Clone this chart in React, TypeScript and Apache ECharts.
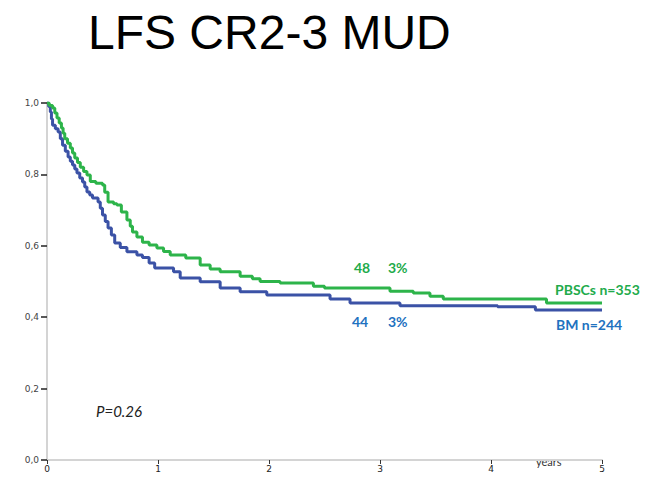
import React, { useEffect, useRef } from "react";
import * as echarts from "echarts";

// Kaplan–Meier step data: time in years, leukaemia-free survival fraction
const pbscTime = [0, 0.02, 0.05, 0.07, 0.09, 0.11, 0.13, 0.145, 0.16, 0.185, 0.21, 0.23, 0.25, 0.275, 0.3, 0.33, 0.36, 0.39, 0.44, 0.5, 0.52, 0.55, 0.6, 0.63, 0.67, 0.72, 0.75, 0.77, 0.81, 0.86, 0.92, 0.99, 1.05, 1.11, 1.25, 1.38, 1.47, 1.56, 1.74, 1.85, 1.92, 2.1, 2.4, 2.5, 3.09, 3.3, 3.45, 3.57, 4.5, 5.0];
const pbscSurv = [1.0, 0.993, 0.986, 0.972, 0.958, 0.944, 0.93, 0.915, 0.9, 0.887, 0.874, 0.86, 0.846, 0.833, 0.82, 0.808, 0.798, 0.78, 0.775, 0.77, 0.75, 0.723, 0.718, 0.714, 0.695, 0.672, 0.655, 0.639, 0.625, 0.61, 0.602, 0.594, 0.584, 0.574, 0.566, 0.546, 0.535, 0.527, 0.515, 0.508, 0.5, 0.496, 0.487, 0.482, 0.473, 0.468, 0.459, 0.451, 0.44, 0.44];

const bmTime = [0, 0.015, 0.03, 0.04, 0.05, 0.075, 0.1, 0.12, 0.14, 0.165, 0.19, 0.21, 0.23, 0.25, 0.27, 0.295, 0.32, 0.34, 0.36, 0.385, 0.41, 0.46, 0.48, 0.5, 0.525, 0.55, 0.58, 0.61, 0.66, 0.72, 0.81, 0.86, 0.92, 0.97, 1.14, 1.2, 1.38, 1.56, 1.74, 1.98, 2.55, 2.73, 3.18, 4.06, 4.4, 5.0];
const bmSurv = [1.0, 0.99, 0.975, 0.955, 0.938, 0.928, 0.919, 0.9, 0.882, 0.865, 0.849, 0.837, 0.826, 0.815, 0.804, 0.79, 0.779, 0.765, 0.751, 0.742, 0.734, 0.723, 0.705, 0.686, 0.668, 0.65, 0.63, 0.608, 0.595, 0.583, 0.574, 0.567, 0.552, 0.538, 0.527, 0.51, 0.499, 0.482, 0.471, 0.462, 0.451, 0.44, 0.432, 0.429, 0.42, 0.42];

const yTicks = ["0,0", "0,2", "0,4", "0,6", "0,8", "1,0"];
const xTicks = ["0", "1", "2", "3", "4", "5"];

const GREEN_LINE = "#2db44a";
const BLUE_LINE = "#3b52a6";
const GREEN_TEXT = "#22ab4b";
const BLUE_TEXT = "#1f72c0";

export default function App() {
  const ref = useRef<HTMLDivElement>(null);

  useEffect(() => {
    document.body.style.margin = "0";
    const chart = echarts.init(ref.current!, undefined, { renderer: "svg" });

    const pair = (t: number[], s: number[]) => t.map((v, i) => [v, s[i]]);

    chart.setOption({
      animation: false,
      backgroundColor: "#ffffff",
      grid: { left: 47, right: 51, top: 103, bottom: 18, containLabel: false },
      xAxis: {
        type: "value",
        min: 0,
        max: 5,
        interval: 1,
        axisLine: { show: true, lineStyle: { color: "#d4d4d4", width: 2 } },
        axisTick: { show: true, inside: false, length: 4, lineStyle: { color: "#333", width: 1 } },
        axisLabel: {
          margin: 4,
          fontSize: 9,
          color: "#222",
          fontFamily: "DejaVu Sans",
          formatter: (v: number) => xTicks[Math.round(v)] ?? "",
        },
        splitLine: { show: false },
      },
      yAxis: {
        type: "value",
        min: 0,
        max: 1,
        interval: 0.2,
        axisLine: { show: true, lineStyle: { color: "#d4d4d4", width: 2 } },
        axisTick: { show: true, inside: false, length: 6, lineStyle: { color: "#222", width: 1.5 } },
        axisLabel: {
          margin: 8,
          fontSize: 9,
          color: "#444",
          fontFamily: "DejaVu Sans",
          formatter: (v: number) => yTicks[Math.round(v * 5)] ?? "",
        },
        splitLine: { show: false },
      },
      series: [
        {
          name: "BM",
          type: "line",
          step: "end",
          showSymbol: false,
          data: pair(bmTime, bmSurv),
          lineStyle: { color: BLUE_LINE, width: 3 },
          z: 2,
        },
        {
          name: "PBSCs",
          type: "line",
          step: "end",
          showSymbol: false,
          data: pair(pbscTime, pbscSurv),
          lineStyle: { color: GREEN_LINE, width: 3 },
          z: 3,
        },
      ],
      graphic: [
        {
          type: "text",
          left: 88,
          top: 8,
          style: { text: "LFS CR2-3 MUD", fontSize: 48, fontFamily: "Liberation Sans", fill: "#000" },
        },
        {
          type: "text",
          left: 354,
          top: 260,
          style: { text: "48", fontSize: 14, fontWeight: "bold", fontFamily: "Lato", fill: GREEN_TEXT },
        },
        {
          type: "text",
          left: 388,
          top: 260,
          style: { text: "3%", fontSize: 14, fontWeight: "bold", fontFamily: "Lato", fill: GREEN_TEXT },
        },
        {
          type: "text",
          left: 352,
          top: 314,
          style: { text: "44", fontSize: 14, fontWeight: "bold", fontFamily: "Lato", fill: BLUE_TEXT },
        },
        {
          type: "text",
          left: 388,
          top: 314,
          style: { text: "3%", fontSize: 14, fontWeight: "bold", fontFamily: "Lato", fill: BLUE_TEXT },
        },
        {
          type: "text",
          left: 555,
          top: 282,
          style: { text: "PBSCs n=353", fontSize: 14, fontWeight: "bold", fontFamily: "Lato", fill: GREEN_TEXT },
        },
        {
          type: "text",
          left: 556,
          top: 317,
          style: { text: "BM n=244", fontSize: 14, fontWeight: "bold", fontFamily: "Lato", fill: BLUE_TEXT },
        },
        {
          type: "text",
          left: 96,
          top: 403,
          style: { text: "P=0.26", fontSize: 15, fontStyle: "italic", fontFamily: "Lato", fill: "#222" },
        },
        {
          type: "text",
          left: 536,
          top: 456,
          style: { text: "years", fontSize: 11, fontFamily: "Lato", fill: "#333" },
        },
      ],
    });

    return () => chart.dispose();
  }, []);

  return <div ref={ref} style={{ width: 653, height: 478 }} />;
}
